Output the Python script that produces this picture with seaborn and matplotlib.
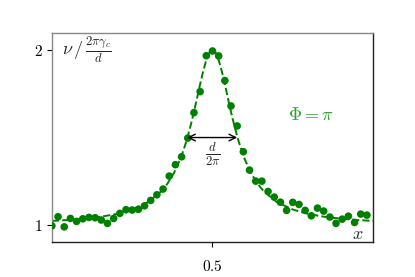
import numpy as np
import pandas as pd
import matplotlib
matplotlib.use("Agg")
import matplotlib.pyplot as plt
import seaborn as sns

# measured dots (x = i/52)
dot_index = list(range(52))
dot_y = [0.996, 1.048, 0.990, 1.038, 1.021, 1.036, 1.044, 1.042, 1.029, 1.010,
         1.038, 1.067, 1.088, 1.086, 1.090, 1.110, 1.141, 1.173, 1.206, 1.280,
         1.345, 1.390, 1.497, 1.642, 1.762, 1.967, 1.994, 1.966, 1.825, 1.680,
         1.566, 1.419, 1.314, 1.251, 1.251, 1.192, 1.160, 1.131, 1.084, 1.130,
         1.118, 1.084, 1.053, 1.097, 1.080, 1.046, 1.010, 1.034, 1.051, 1.015,
         1.063, 1.057]

# dashed fit curve
fit_x = [0.0, 0.05, 0.1, 0.15, 0.2, 0.25, 0.3, 0.34, 0.36, 0.38, 0.4, 0.41, 0.42,
         0.43, 0.44, 0.45, 0.46, 0.47, 0.48, 0.49, 0.5, 0.51, 0.52, 0.53, 0.54,
         0.55, 0.56, 0.57, 0.58, 0.59, 0.6, 0.62, 0.64, 0.66, 0.7, 0.75, 0.8,
         0.85, 0.9, 0.95, 1.0]
fit_y = [1.024, 1.029, 1.037, 1.047, 1.063, 1.089, 1.132, 1.192, 1.237, 1.297,
         1.378, 1.429, 1.487, 1.554, 1.628, 1.709, 1.792, 1.871, 1.938, 1.984,
         2.000, 1.984, 1.938, 1.871, 1.792, 1.709, 1.628, 1.554, 1.487, 1.429,
         1.378, 1.297, 1.237, 1.192, 1.132, 1.089, 1.063, 1.047, 1.037, 1.029,
         1.024]

dots = pd.DataFrame({"x": [i / 52 for i in dot_index], "y": dot_y})
fit = pd.DataFrame({"x": fit_x, "y": fit_y})

sns.set_theme(style="white")
plt.rcParams["mathtext.fontset"] = "cm"
plt.rcParams["font.family"] = ["DejaVu Serif"]

fig = plt.figure(figsize=(4.15, 2.77), dpi=100)
ax = fig.add_axes([0.125, 0.126, 0.774, 0.755])

sns.lineplot(data=fit, x="x", y="y", ax=ax, color="green", linestyle="--",
             linewidth=1.4, zorder=2)
sns.scatterplot(data=dots, x="x", y="y", ax=ax, color="green", s=30,
                edgecolor="none", zorder=3)

ax.set_xlim(0, 1)
ax.set_ylim(0.903, 2.097)
ax.set_xlabel("")
ax.set_ylabel("")
ax.set_xticks([0.5])
ax.set_xticklabels(["$0.5$"], fontsize=11)
ax.set_yticks([1, 2])
ax.set_yticklabels(["$1$", "$2$"], fontsize=11)
ax.tick_params(axis="x", bottom=True, length=3.5, width=0.8, pad=9, colors="black")
ax.tick_params(axis="y", left=True, length=3.5, width=0.8, pad=3, colors="black")

for side in ["top", "left"]:
    ax.spines[side].set_color("#888888")
for side in ["right", "bottom"]:
    ax.spines[side].set_color("#222222")
for s in ax.spines.values():
    s.set_linewidth(1.0)

ax.annotate("", xy=(0.421, 1.5), xytext=(0.577, 1.5),
            arrowprops=dict(arrowstyle="<->", color="black", lw=1.0,
                            shrinkA=0, shrinkB=0))
ax.text(0.5, 1.41, r"$\frac{d}{2\pi}$", ha="center", va="center", fontsize=13)
ax.text(0.03, 2.0, r"$\nu\,/\,\frac{2\pi\gamma_c}{d}$", ha="left", va="center",
        fontsize=13)
ax.text(0.805, 1.63, r"$\Phi = \pi$", ha="center", va="center", fontsize=13,
        color="#2ca02c")
ax.text(0.953, 0.95, r"$x$", ha="center", va="center", fontsize=13)

fig.savefig("out.png", dpi=100)
